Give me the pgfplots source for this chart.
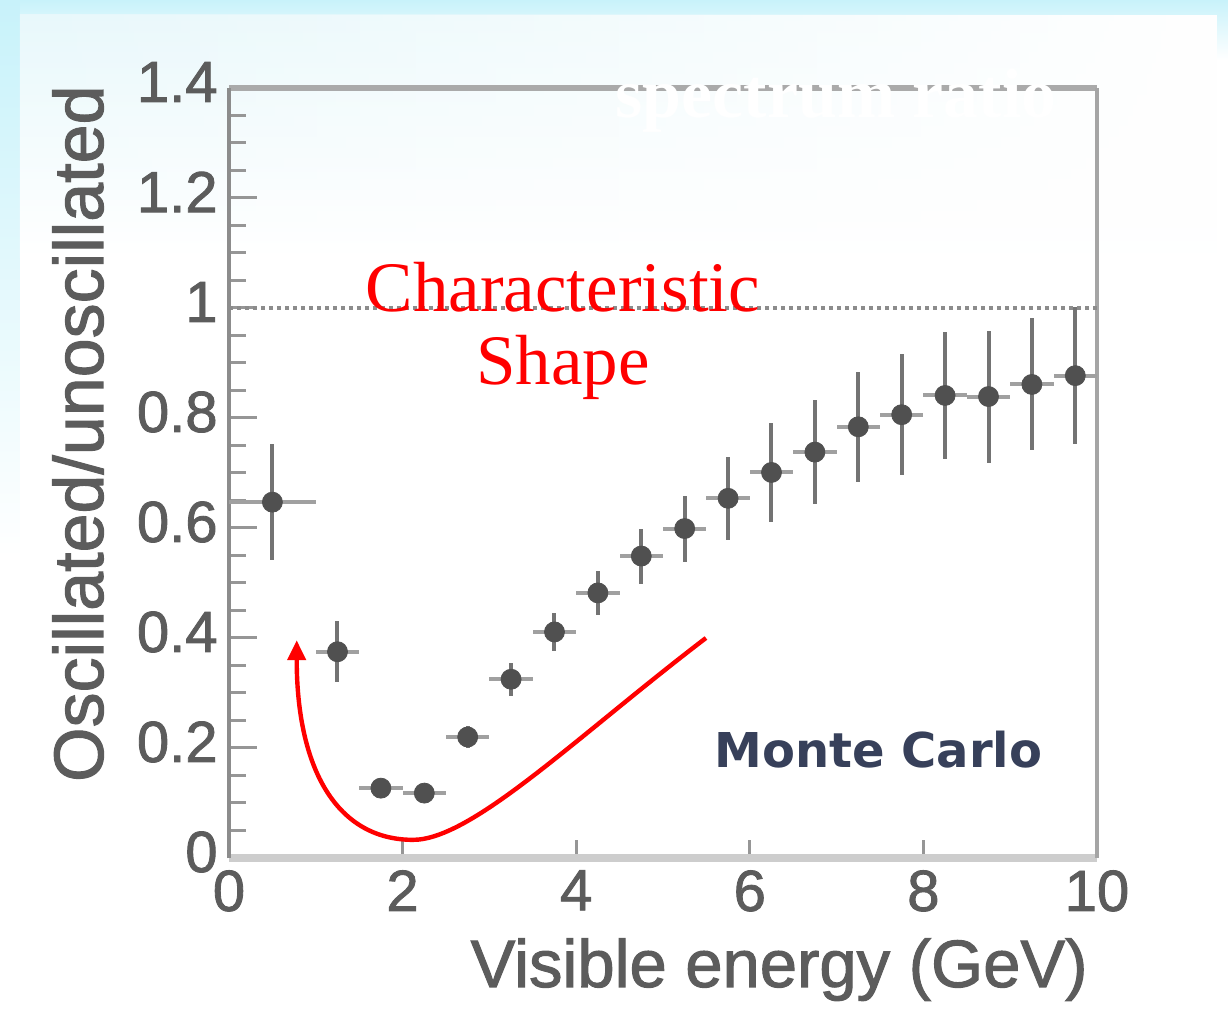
\documentclass[border=0pt]{standalone}
\usepackage{fontspec}
\setmainfont{Liberation Sans}
\newfontfamily\heavysans{Liberation Sans}[FakeBold=1.5]
\newfontfamily\seriffont{Liberation Serif}
\newfontfamily\verdanalike{DejaVu Sans}
\usepackage{pgfplots}
\usepackage{pgfplotstable}
\pgfplotsset{compat=1.18}
\usetikzlibrary{arrows.meta,fadings}

\definecolor{bgcyan}{RGB}{200,242,250}
\definecolor{paneltint}{RGB}{232,248,251}
\definecolor{labelgray}{RGB}{92,92,92}
\definecolor{tickgray}{RGB}{150,150,150}
\definecolor{markgray}{RGB}{80,80,80}
\definecolor{vbargray}{RGB}{115,115,115}
\definecolor{hbargray}{RGB}{160,160,160}
\definecolor{slate}{RGB}{55,64,90}

% ratio per bin: centre, value, half width, error
\pgfplotstableread{
x     y      ex    ey
0.50  0.647  0.50  0.105
1.25  0.375  0.25  0.055
1.75  0.127  0.25  0.015
2.25  0.118  0.25  0.015
2.75  0.220  0.25  0.020
3.25  0.325  0.25  0.030
3.75  0.411  0.25  0.035
4.25  0.482  0.25  0.040
4.75  0.549  0.25  0.050
5.25  0.599  0.25  0.060
5.75  0.654  0.25  0.075
6.25  0.701  0.25  0.090
6.75  0.738  0.25  0.095
7.25  0.784  0.25  0.100
7.75  0.806  0.25  0.110
8.25  0.841  0.25  0.115
8.75  0.839  0.25  0.120
9.25  0.861  0.25  0.120
9.75  0.877  0.25  0.125
}\ratiodata

\begin{document}
\begin{tikzpicture}
% slide background
\fill[white] (-114.5pt,-77.5pt) rectangle (499.5pt,429pt);
\shade[top color=bgcyan, bottom color=white] (-114.5pt,399pt) rectangle (499.5pt,429pt);
\shade[top color=bgcyan, bottom color=white] (-114.5pt,150pt) rectangle (-104.5pt,429pt);
\fill[white] (-104.5pt,-77.5pt) rectangle (494pt,421.5pt);
\shade[top color=paneltint, bottom color=white, path fading=east] (-104.5pt,300pt) rectangle (494pt,421.5pt);

\begin{axis}[
  scale only axis, width=434pt, height=385pt,
  xmin=0, xmax=10, ymin=0, ymax=1.4,
  axis line style={draw=none},
  xtick={0,2,4,6,8,10},
  ytick={0,0.2,0.4,0.6,0.8,1,1.2,1.4},
  minor y tick num=3,
  xtick pos=bottom, ytick pos=left,
  tick align=inside,
  major tick length=14pt, minor tick length=8.5pt,
  tick style={draw=tickgray, line width=1.5pt},
  major x tick style={/pgfplots/major tick length=9pt},
  ticklabel style={font=\heavysans\fontsize{29pt}{29pt}\selectfont, text=labelgray},
  yticklabel style={inner sep=0pt, xshift=-5.5pt, yshift=3pt},
  xticklabel style={inner sep=0pt, yshift=-6pt},
  /pgf/number format/assume math mode=true,
  clip=false,
]
% frame
\draw[color={rgb,255:red,205;green,205;blue,205}, line width=4pt] (rel axis cs:0,0) -- (rel axis cs:1,0);
\draw[color={rgb,255:red,170;green,170;blue,170}, line width=3pt] (rel axis cs:0,1) -- (rel axis cs:1,1);
\draw[color={rgb,255:red,140;green,140;blue,140}, line width=2pt] (rel axis cs:0,0) -- (rel axis cs:0,1);
\draw[color={rgb,255:red,165;green,165;blue,165}, line width=2pt] (rel axis cs:1,0) -- (rel axis cs:1,1);
% unit ratio reference
\addplot[color={rgb,255:red,140;green,140;blue,140}, line width=2pt, dash pattern=on 2pt off 2pt, forget plot] coordinates {(0,1) (10,1)};

% bin widths
\addplot[only marks, mark=none,
  error bars/.cd, x dir=both, x explicit,
  error bar style={color=hbargray, line width=2pt}, error mark=none]
  table[x=x, y=y, x error=ex] {\ratiodata};
% values with vertical errors
\addplot[only marks, mark=*, mark size=5pt, mark options={fill=markgray, draw=markgray},
  error bars/.cd, y dir=both, y explicit,
  error bar style={color=vbargray, line width=2pt}, error mark=none]
  table[x=x, y=y, y error=ey] {\ratiodata};

% dip arrow
\draw[red, line width=2.2pt, -{Triangle[length=10pt,width=9pt]}]
  (axis cs:5.495,0.40) .. controls (axis cs:4.0,0.22) and (axis cs:2.8,0.033) .. (axis cs:2.12,0.033)
  .. controls (axis cs:1.25,0.033) and (axis cs:0.78,0.16) .. (axis cs:0.78,0.396);
\end{axis}

% titles and labels
\node[anchor=base west, text=white, inner sep=0pt, font=\seriffont\bfseries\fontsize{35pt}{35pt}\selectfont] at (193pt,370pt) {spectrum ratio};
\node[anchor=base, text=red, inner sep=0pt, font=\seriffont\fontsize{35.5pt}{35.5pt}\selectfont] at (167pt,273pt) {Characteristic};
\node[anchor=base, text=red, inner sep=0pt, font=\seriffont\fontsize{35.5pt}{35.5pt}\selectfont] at (167pt,236.5pt) {Shape};
\node[anchor=base west, text=slate, inner sep=0pt, font=\verdanalike\bfseries\fontsize{24pt}{24pt}\selectfont] at (242.5pt,45pt) {Monte Carlo};
\node[anchor=base east, text=labelgray, inner sep=0pt, font=\heavysans\fontsize{33.5pt}{33.5pt}\selectfont] at (429.5pt,-64.5pt) {Visible energy (GeV)};
\node[anchor=base east, rotate=90, text=labelgray, inner sep=0pt, font=\heavysans\fontsize{35pt}{35pt}\selectfont] at (-63pt,386.5pt) {Oscillated/unoscillated};
\end{tikzpicture}
\end{document}
